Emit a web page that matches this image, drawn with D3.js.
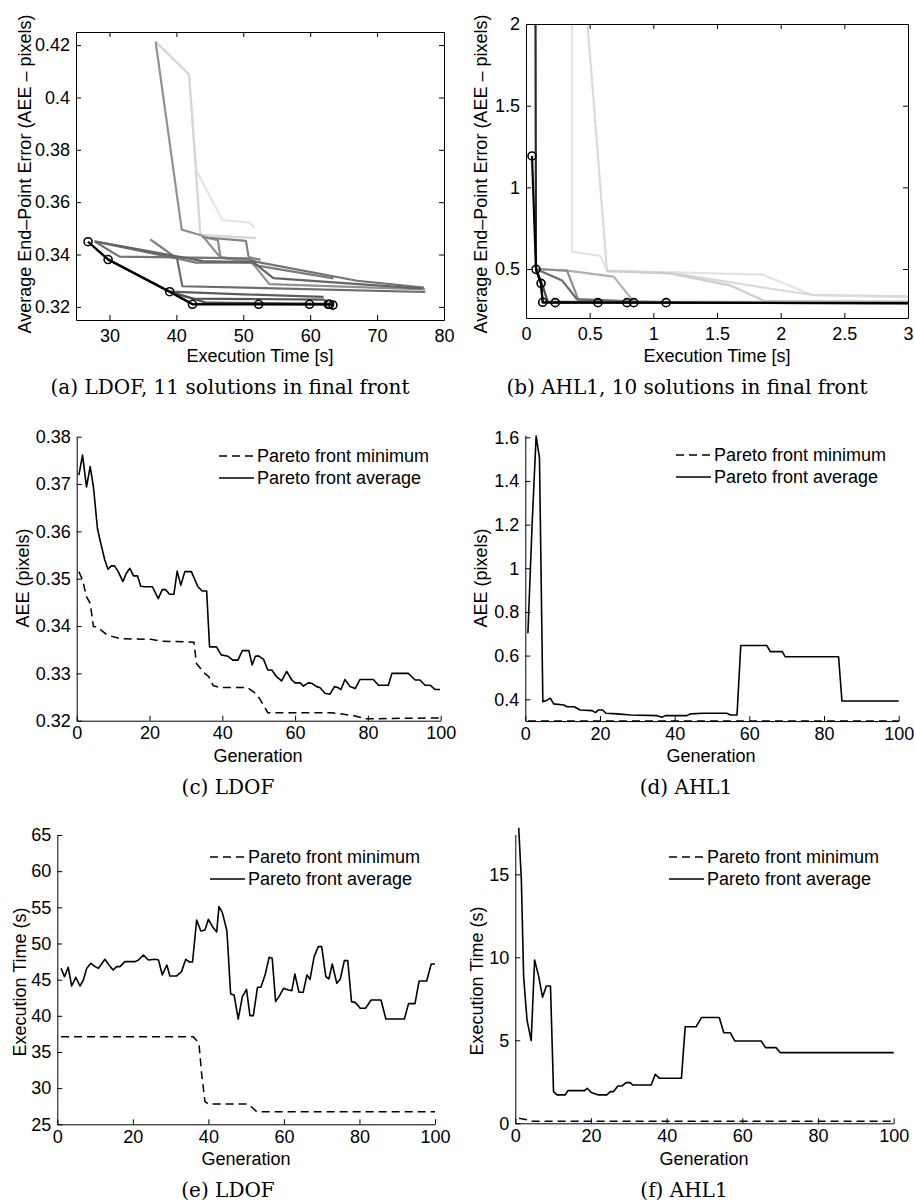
<!DOCTYPE html>
<html><head><meta charset="utf-8">
<script src="https://cdn.jsdelivr.net/npm/d3@7"></script>
<style>
body{margin:0;background:#fff;}
svg{display:block;background:#fff;}
</style></head><body>
<svg id="chart" width="914" height="1204"></svg>
<script>
// ---------------- DATA ----------------
const captions = ["(a) LDOF, 11 solutions in final front", "(b) AHL1, 10 solutions in final front",
                  "(c) LDOF", "(d) AHL1", "(e) LDOF", "(f) AHL1"];
const legendLabels = ["Pareto front minimum", "Pareto front average"];
const frontXLabel = "Execution Time [s]";
const frontYLabel = "Average End\u2013Point Error (AEE \u2013 pixels)";
const genLabel = "Generation";
const aeeLabel = "AEE (pixels)";
const timeLabel = "Execution Time (s)";

const ldofXTicks = [30, 40, 50, 60, 70, 80];
const ldofYTicks = [0.32, 0.34, 0.36, 0.38, 0.40, 0.42];
const ahlXTicks = [0, 0.5, 1, 1.5, 2, 2.5, 3];
const ahlYTicks = [0.5, 1, 1.5, 2];
const genTicks = [0, 20, 40, 60, 80, 100];
const ldofAeeTicks = [0.32, 0.33, 0.34, 0.35, 0.36, 0.37, 0.38];
const ahlAeeTicks = [0.4, 0.6, 0.8, 1.0, 1.2, 1.4, 1.6];
const ldofTimeTicks = [25, 30, 35, 40, 45, 50, 55, 60, 65];
const ahlTimeTicks = [0, 5, 10, 15];

// (a) LDOF Pareto fronts over generations, oldest first: [time s, AEE]
const ldofFronts = [
  [[36.9,0.4213],[41.9,0.4088],[43.0,0.3720],[46.9,0.3532],[51.0,0.3522],[51.6,0.3503]],
  [[36.9,0.4213],[41.9,0.4088],[43.6,0.3475],[51.9,0.3463]],
  [[36.9,0.4213],[40.8,0.3495],[43.9,0.3472],[46.6,0.3388],[51.3,0.3370],[53.9,0.3287],[77.2,0.3267]],
  [[43.8,0.3468],[46.2,0.3455],[46.6,0.3390],[51.4,0.3375],[52.0,0.3372]],
  [[44.0,0.3466],[50.4,0.3452],[50.8,0.3390],[52.6,0.3380]],
  [[36.1,0.3458],[40.1,0.3385],[42.9,0.3369],[51.1,0.3369],[52.3,0.3357],[63.5,0.3309]],
  [[27.8,0.3450],[31.5,0.3392],[50.5,0.3385],[52.0,0.3372],[67.0,0.3300],[77.0,0.3274]],
  [[27.8,0.3450],[40.1,0.3385],[40.9,0.3279],[77.2,0.3257]],
  [[27.8,0.3450],[44.0,0.3375],[51.5,0.3370],[54.5,0.3310],[76.8,0.3270]],
  [[39.0,0.3258],[50.0,0.3248],[62.0,0.3238]],
  [[39.0,0.3258],[42.5,0.3232],[62.0,0.3228],[62.6,0.3218]],
  [[29.8,0.3381],[39.0,0.3258],[44.5,0.3216],[62.7,0.3212],[63.4,0.3207]],
  [[26.8,0.3449],[29.8,0.3381],[39.0,0.3258],[42.4,0.3212],[62.7,0.3210]]
];
const ldofFinalFront = [[26.8,0.3449],[29.8,0.3381],[39.0,0.3258],[42.4,0.3210],[52.3,0.3210],
  [59.9,0.3210],[62.7,0.3210],[62.9,0.3210],[63.4,0.3207]];

// (b) AHL1 Pareto fronts over generations, oldest first
const ahlFronts = [
  [[0.360,2.3],[0.361,0.606],[0.584,0.580],[0.636,0.490],[1.86,0.465],[2.25,0.340],[3.5,0.318]],
  [[0.453,2.3],[0.636,0.487],[1.15,0.475],[2.0,0.370],[2.25,0.342],[3.5,0.325]],
  [[0.636,0.487],[1.13,0.473],[1.6,0.400],[1.87,0.305],[3.5,0.300]],
  [[0.0785,0.500],[0.322,0.490],[0.689,0.453],[0.846,0.300],[3.5,0.296]],
  [[0.0785,0.500],[0.322,0.490],[0.413,0.310],[1.10,0.298]],
  [[0.0785,0.500],[0.283,0.430],[0.400,0.315],[0.85,0.300]],
  [[0.0785,0.500],[0.130,0.400],[0.170,0.300],[0.60,0.297]],
  [[0.074,2.3],[0.0785,0.498],[0.118,0.412],[0.131,0.296],[3.5,0.288]]
];
const ahlFinalFront = [[0.047,1.192],[0.0785,0.498],[0.118,0.412],[0.131,0.296],[0.23,0.294],
  [0.565,0.294],[0.793,0.294],[0.846,0.294],[1.10,0.294],[3.6,0.290]];

// (c) LDOF AEE per generation
const ldofAeeMin = [[0.6,0.3515],[1.6,0.3497],[2.7,0.3462],[3.7,0.3448],[4.6,0.3399],[5.7,0.3398],[6.6,0.3392],
  [8.4,0.3381],[12.1,0.3373],[20.3,0.3372],[23.1,0.3368],[32.2,0.3366],[32.9,0.3321],[35.0,0.3301],[36.3,0.3293],
  [37.5,0.3274],[39.5,0.3270],[46.9,0.3270],[49.1,0.3258],[49.9,0.3251],[51.3,0.3233],[52.5,0.3217],[70.1,0.3217],
  [76.5,0.3210],[79.3,0.3204],[99.8,0.3206]];
const ldofAeeAvg = [[0.6,0.3719],[1.6,0.3761],[2.7,0.3694],[3.7,0.3737],[4.6,0.3694],[5.7,0.3606],[6.6,0.3575],
  [7.7,0.3540],[8.6,0.3520],[9.5,0.3527],[10.4,0.3527],[11.4,0.3515],[12.7,0.3494],[13.6,0.3511],[14.6,0.3522],
  [15.6,0.3506],[16.7,0.3506],[17.6,0.3484],[18.7,0.3483],[20.8,0.3483],[22.4,0.3458],[23.5,0.3477],[24.4,0.3477],
  [25.5,0.3467],[26.7,0.3467],[27.6,0.3516],[28.6,0.3486],[29.7,0.3515],[31.5,0.3515],[33.3,0.3483],[34.5,0.3474],
  [35.7,0.3474],[36.5,0.3356],[38.4,0.3356],[39.7,0.3339],[41.6,0.3336],[42.9,0.3328],[44.3,0.3328],[45.5,0.3348],
  [47.3,0.3348],[48.2,0.3318],[49.1,0.3336],[49.9,0.3337],[51.3,0.3330],[52.5,0.3307],[53.6,0.3307],[54.9,0.3293],
  [56.3,0.3284],[57.7,0.3304],[59.1,0.3286],[60.0,0.3280],[61.4,0.3280],[62.3,0.3273],[63.6,0.3280],[64.6,0.3279],
  [65.9,0.3272],[66.8,0.3270],[68.2,0.3258],[69.6,0.3256],[70.8,0.3272],[71.7,0.3270],[72.6,0.3266],[73.7,0.3287],
  [75.1,0.3272],[76.5,0.3268],[77.8,0.3287],[81.5,0.3287],[82.9,0.3275],[85.6,0.3275],[86.6,0.3300],[91.1,0.3300],
  [93.0,0.3286],[94.3,0.3286],[95.7,0.3275],[97.1,0.3275],[98.4,0.3266],[99.8,0.3266]];

// (d) AHL1 AEE per generation
const ahlAeeMin = [[0.7,0.3005],[100,0.3005]];
const ahlAeeAvg = [[0.7,0.702],[1.8,1.191],[2.9,1.606],[3.8,1.504],[4.7,0.389],[5.6,0.394],[6.7,0.405],[7.6,0.379],
  [10.3,0.374],[11.2,0.366],[13.1,0.366],[14.7,0.351],[17.9,0.348],[18.8,0.339],[19.6,0.351],[20.7,0.351],[21.6,0.336],
  [24.6,0.333],[28.2,0.328],[35.3,0.325],[36.6,0.318],[37.5,0.325],[43.3,0.325],[44.2,0.333],[47.8,0.336],[54.0,0.336],
  [54.9,0.328],[56.7,0.328],[57.7,0.646],[64.7,0.646],[65.6,0.618],[68.8,0.618],[69.6,0.595],[83.9,0.595],[84.8,0.392],
  [100,0.392]];

// (e) LDOF execution time per generation
const ldofTimeMin = [[1,37.12],[36,37.12],[37.5,36.2],[38.2,32.05],[39.1,28.13],[40.0,27.8],[50.6,27.8],[52.8,26.75],[100,26.75]];
const ldofTimeAvg = [[1.0,46.57],[1.9,45.41],[2.9,46.71],[3.8,44.12],[4.9,45.32],[6.0,44.12],[6.9,44.95],[7.8,46.57],
  [8.9,47.26],[10.0,46.8],[10.9,46.57],[12.6,47.81],[14.0,46.8],[14.8,46.34],[15.7,46.8],[16.6,46.8],[17.9,47.49],
  [20.6,47.49],[21.5,47.72],[22.8,48.41],[24.1,47.72],[25.9,47.81],[26.8,47.72],[27.8,45.65],[29.0,47.03],[29.8,45.51],
  [31.6,45.51],[32.9,46.11],[34.0,47.81],[35.0,47.44],[35.8,47.44],[36.9,53.25],[38.0,51.73],[39.1,51.87],[40.0,53.34],
  [41.1,52.33],[42.2,51.59],[42.8,55.09],[43.7,54.26],[44.9,51.77],[45.9,43.02],[46.8,42.88],[47.9,39.56],[49.0,42.65],
  [50.1,43.66],[51.0,40.02],[51.9,40.02],[53.0,43.94],[53.9,43.94],[55.0,45.65],[56.1,48.09],[56.9,47.95],[57.8,41.96],
  [58.7,42.65],[59.9,43.8],[61.2,43.57],[62.1,43.48],[62.9,45.78],[64.0,43.25],[65.1,43.25],[66.1,45.65],[66.9,45.05],
  [68.0,48.18],[69.1,49.56],[70.0,49.56],[71.1,45.41],[71.9,45.09],[72.8,47.17],[74.0,44.49],[74.9,45.05],[76.0,47.63],
  [76.9,47.63],[77.9,41.96],[79.0,41.82],[80.2,41.04],[81.6,41.04],[83.1,42.19],[85.7,42.19],[87.0,39.56],[91.9,39.56],
  [93.0,41.68],[94.7,41.68],[95.8,44.82],[97.8,44.82],[99.0,47.17],[100,47.17]];

// (f) AHL1 execution time per generation
const ahlTimeMin = [[1,0.30],[3,0.22],[4,0.12],[100,0.12]];
const ahlTimeAvg = [[0.9,17.8],[1.6,14.66],[2.2,8.84],[3.1,6.22],[4.2,4.98],[5.1,9.84],[6.2,8.84],[7.2,7.59],[8.2,8.27],
  [9.3,8.27],[10.1,1.91],[11.0,1.71],[13.2,1.71],[13.9,1.97],[18.3,1.97],[19.0,2.11],[20.1,1.85],[22.0,1.71],[24.2,1.71],
  [25.1,1.91],[26.0,1.91],[27.1,2.25],[28.2,2.25],[29.3,2.45],[30.4,2.45],[31.0,2.31],[35.9,2.31],[37.0,2.95],[38.1,2.71],
  [43.9,2.71],[44.9,5.82],[47.8,5.82],[49.2,6.37],[53.9,6.37],[55.1,5.46],[56.8,5.46],[58.0,4.96],[65.0,4.96],[66.1,4.56],
  [68.9,4.56],[70.0,4.26],[100,4.26]];

// ---------------- DRAWING ----------------
const SANS = "'Liberation Sans', Arial, Helvetica, sans-serif";
const SERIF = "'DejaVu Serif', 'Liberation Serif', serif";
const FS = 18;
const svg = d3.select("#chart");
const fmt = d => String(+(+d).toFixed(2));

function drawAxes(x, y, xTicks, yTicks, box, xPad) {
  const y0 = y.range()[0], y1 = y.range()[1], x0 = x.range()[0], x1 = x.range()[1];
  const style = g => {
    g.attr("font-size", FS).attr("font-family", SANS);
    g.selectAll("path,line").attr("stroke", "#000").attr("stroke-width", 1);
    g.selectAll("text").attr("fill", "#000");
  };
  svg.append("g").attr("transform", `translate(0,${y0})`)
    .call(d3.axisBottom(x).tickValues(xTicks).tickSizeInner(-5).tickSizeOuter(0).tickPadding(xPad).tickFormat(fmt))
    .call(style);
  svg.append("g").attr("transform", `translate(${x0},0)`)
    .call(d3.axisLeft(y).tickValues(yTicks).tickSizeInner(-5).tickSizeOuter(0).tickPadding(6).tickFormat(fmt))
    .call(style);
  if (box) {
    svg.append("g").attr("transform", `translate(0,${y1})`)
      .call(d3.axisTop(x).tickValues(xTicks).tickSizeInner(-5).tickSizeOuter(0).tickFormat(() => ""))
      .call(style);
    svg.append("g").attr("transform", `translate(${x1},0)`)
      .call(d3.axisRight(y).tickValues(yTicks).tickSizeInner(-5).tickSizeOuter(0).tickFormat(() => ""))
      .call(style);
  }
}

function textAt(str, x, y, opts = {}) {
  return svg.append("text").attr("x", x).attr("y", y).text(str)
    .attr("font-family", opts.family || SANS).attr("font-size", opts.size || FS)
    .attr("text-anchor", opts.anchor || "middle").attr("fill", "#000");
}
function yLabel(str, xb, cy) {
  svg.append("text").attr("transform", `translate(${xb},${cy}) rotate(-90)`)
    .attr("text-anchor", "middle").attr("font-family", SANS).attr("font-size", FS).attr("fill", "#000").text(str);
}

let clipId = 0;
function frontPanel(x, y, fronts, finalFront, shade, xTicks, yTicks) {
  const id = "clip" + (clipId++);
  svg.append("clipPath").attr("id", id).append("rect")
    .attr("x", x.range()[0]).attr("y", y.range()[1])
    .attr("width", x.range()[1] - x.range()[0]).attr("height", y.range()[0] - y.range()[1]);
  const g = svg.append("g").attr("clip-path", `url(#${id})`);
  const line = d3.line().x(d => x(d[0])).y(d => y(d[1]));
  g.selectAll(".front").data(fronts).join("path")
    .attr("d", line).attr("fill", "none")
    .attr("stroke", (d, i) => shade(i, fronts.length)).attr("stroke-width", 2.2)
    .attr("stroke-linejoin", "round");
  g.append("path").datum(finalFront).attr("d", line).attr("fill", "none")
    .attr("stroke", "#000").attr("stroke-width", 2.2).attr("stroke-linejoin", "round");
  g.selectAll(".pt").data(finalFront).join("circle")
    .attr("cx", d => x(d[0])).attr("cy", d => y(d[1])).attr("r", 4)
    .attr("fill", "none").attr("stroke", "#000").attr("stroke-width", 1.6);
  drawAxes(x, y, xTicks, yTicks, true, 9);
}

function seriesPanel(x, y, minS, avgS, xTicks, yTicks, lx, ly) {
  const line = d3.line().x(d => x(d[0])).y(d => y(d[1]));
  svg.append("path").datum(minS).attr("d", line).attr("fill", "none")
    .attr("stroke", "#000").attr("stroke-width", 1.5).attr("stroke-dasharray", "8,5");
  svg.append("path").datum(avgS).attr("d", line).attr("fill", "none")
    .attr("stroke", "#000").attr("stroke-width", 1.6).attr("stroke-linejoin", "round");
  drawAxes(x, y, xTicks, yTicks, false, 6);
  const dashes = ["8,5", null];
  legendLabels.forEach((lab, i) => {
    const yy = ly + i * 22;
    const p = svg.append("line").attr("x1", lx - 38).attr("x2", lx - 3).attr("y1", yy - 6).attr("y2", yy - 6)
      .attr("stroke", "#000").attr("stroke-width", 1.5);
    if (dashes[i]) p.attr("stroke-dasharray", dashes[i]);
    textAt(lab, lx, yy, {anchor: "start"});
  });
}

// shades: early generations light, later ones darker
const shadeA = (i, n) => { const v = i === 0 ? 228 : i === 1 ? 214 : Math.round(145 - (i - 2) * 75 / (n - 3)); return `rgb(${v},${v},${v})`; };
const shadeB = (i, n) => { const v = i < 3 ? [228, 218, 206][i] : Math.round(175 - (i - 3) * 135 / (n - 4)); return `rgb(${v},${v},${v})`; };

// (a)
const xa = d3.scaleLinear().domain([25, 80]).range([76, 444]);
const ya = d3.scaleLinear().domain([0.315, 0.425]).range([320, 32]);
frontPanel(xa, ya, ldofFronts, ldofFinalFront, shadeA, ldofXTicks, ldofYTicks);
yLabel(frontYLabel, 31, 174);
textAt(frontXLabel, 260, 362);
textAt(captions[0], 230, 394, {family: SERIF, size: 20});

// (b)
const xb = d3.scaleLinear().domain([0, 3]).range([526, 908]);
const yb = d3.scaleLinear().domain([0.2, 2]).range([318, 24]);
frontPanel(xb, yb, ahlFronts, ahlFinalFront, shadeB, ahlXTicks, ahlYTicks);
yLabel(frontYLabel, 487, 174);
textAt(frontXLabel, 717, 362);
textAt(captions[1], 687, 394, {family: SERIF, size: 20});

// (c)
const xc = d3.scaleLinear().domain([0, 100]).range([76.7, 440.7]);
const yc = d3.scaleLinear().domain([0.32, 0.38]).range([720.7, 436.7]);
seriesPanel(xc, yc, ldofAeeMin, ldofAeeAvg, genTicks, ldofAeeTicks, 257, 462);
yLabel(aeeLabel, 29, 578);
textAt(genLabel, 258, 762);
textAt(captions[2], 228, 794, {family: SERIF, size: 20});

// (d)
const xd = d3.scaleLinear().domain([0, 100]).range([525.3, 898.7]);
const yd = d3.scaleLinear().domain([0.3, 1.61]).range([721.1, 435.1]);
seriesPanel(xd, yd, ahlAeeMin, ahlAeeAvg, genTicks, ahlAeeTicks, 714, 461);
yLabel(aeeLabel, 487, 578);
textAt(genLabel, 711, 762);
textAt(captions[3], 686, 794, {family: SERIF, size: 20});

// (e)
const xe = d3.scaleLinear().domain([0, 100]).range([57.3, 435]);
const ye = d3.scaleLinear().domain([25, 65]).range([1124.3, 835]);
seriesPanel(xe, ye, ldofTimeMin, ldofTimeAvg, genTicks, ldofTimeTicks, 248, 863);
yLabel(timeLabel, 25.5, 982);
textAt(genLabel, 246, 1165);
textAt(captions[4], 228, 1197, {family: SERIF, size: 20});

// (f)
const xf = d3.scaleLinear().domain([0, 100]).range([515.3, 893.7]);
const yf = d3.scaleLinear().domain([0, 17.4]).range([1123.3, 834.5]);
seriesPanel(xf, yf, ahlTimeMin, ahlTimeAvg, genTicks, ahlTimeTicks, 707, 863);
yLabel(timeLabel, 483, 981);
textAt(genLabel, 704, 1165);
textAt(captions[5], 684, 1197, {family: SERIF, size: 20});
</script>
</body></html>
